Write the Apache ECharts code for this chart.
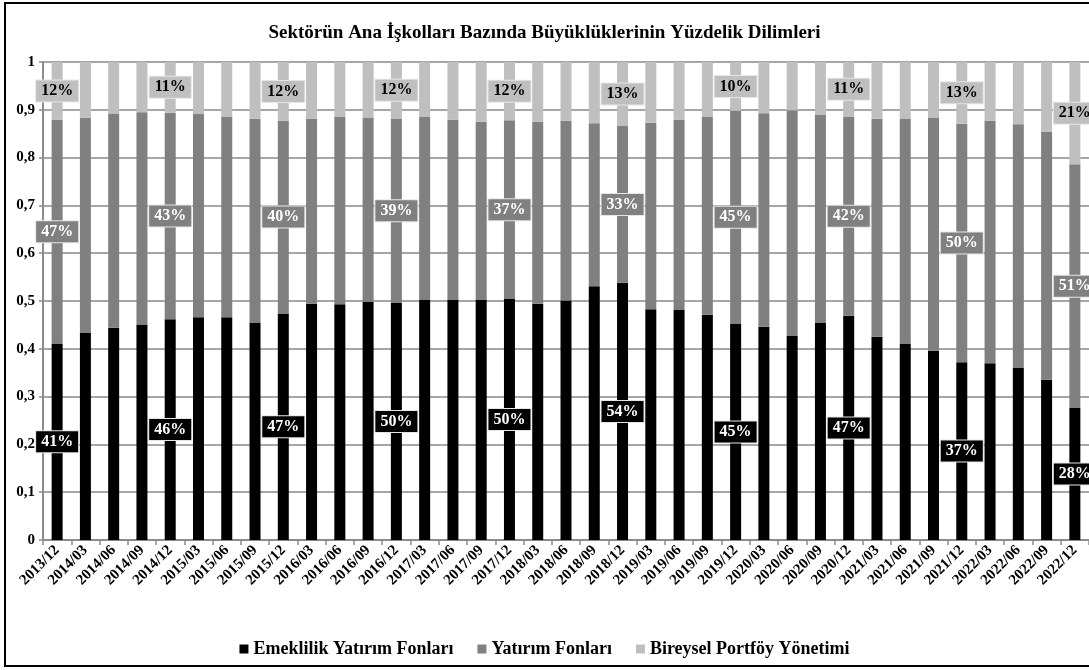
<!DOCTYPE html>
<html>
<head>
<meta charset="utf-8">
<script src="https://cdn.jsdelivr.net/npm/echarts@6/dist/echarts.min.js"></script>
<style>
  html, body { margin: 0; padding: 0; background: #fff; }
  #frame { position: absolute; left: 4px; top: 2px; width: 1100px; height: 661px; border: 2px solid #000; }
  #chart { position: absolute; left: 0; top: 0; width: 1089px; height: 670px; }
</style>
</head>
<body>
<div id="frame"></div>
<div id="chart"></div>
<script>
// kategoriler (çeyrekler)
var donemler = ['2013/12','2014/03','2014/06','2014/09','2014/12','2015/03','2015/06','2015/09','2015/12',
  '2016/03','2016/06','2016/09','2016/12','2017/03','2017/06','2017/09','2017/12','2018/03','2018/06',
  '2018/09','2018/12','2019/03','2019/06','2019/09','2019/12','2020/03','2020/06','2020/09','2020/12',
  '2021/03','2021/06','2021/09','2021/12','2022/03','2022/06','2022/09','2022/12'];

// seri değerleri (pay)
var emeklilik = [0.411,0.434,0.444,0.451,0.462,0.466,0.466,0.455,0.474,0.494,0.493,0.498,0.496,0.503,0.503,0.503,0.504,
  0.494,0.501,0.531,0.538,0.483,0.481,0.471,0.452,0.446,0.427,0.454,0.469,0.425,0.411,0.396,0.372,0.370,0.360,0.335,0.276];
var yatirim = [0.468,0.449,0.448,0.444,0.432,0.425,0.420,0.426,0.403,0.387,0.393,0.386,0.386,0.383,0.376,0.372,0.374,
  0.381,0.376,0.341,0.328,0.390,0.398,0.415,0.446,0.447,0.472,0.436,0.417,0.456,0.471,0.488,0.499,0.507,0.510,0.519,0.510];
var bireysel = [0.121,0.117,0.108,0.105,0.106,0.109,0.114,0.119,0.123,0.119,0.114,0.116,0.118,0.114,0.121,0.125,0.122,
  0.125,0.123,0.128,0.134,0.127,0.121,0.114,0.102,0.107,0.101,0.110,0.114,0.119,0.118,0.116,0.129,0.123,0.130,0.146,0.214];

var fontAile = "'Liberation Serif', 'Times New Roman', serif";

// sadece aralık dönemlerinde etiket göster
function veri(arr) {
  return arr.map(function (v, i) {
    return { value: v, label: { show: donemler[i].slice(5) === '12' } };
  });
}

function etiket(yazi, zemin) {
  return {
    show: false,
    position: 'inside',
    formatter: function (p) { return Math.round(p.value * 100) + '%'; },
    color: yazi,
    fontFamily: fontAile,
    fontWeight: 'bold',
    fontSize: 16,
    backgroundColor: zemin,
    borderColor: '#e6e6e6',
    borderWidth: 1,
    padding: [3, 5, 2, 5]
  };
}

var chart = echarts.init(document.getElementById('chart'));

var option = {
  backgroundColor: 'transparent',
  animation: false,
  title: {
    text: 'Sektörün Ana İşkolları Bazında Büyüklüklerinin Yüzdelik Dilimleri',
    left: 'center',
    top: 19,
    textStyle: { fontFamily: fontAile, fontWeight: 'bold', fontSize: 19, color: '#000' }
  },
  legend: {
    top: 635,
    left: 'center',
    icon: 'rect',
    itemWidth: 9,
    itemHeight: 9,
    itemGap: 24,
    textStyle: { fontFamily: fontAile, fontWeight: 'bold', fontSize: 18, color: '#000' },
    data: ['Emeklilik Yatırım Fonları', 'Yatırım Fonları', 'Bireysel Portföy Yönetimi']
  },
  grid: { left: 43, top: 62, width: 1047, height: 478 },
  xAxis: {
    type: 'category',
    data: donemler,
    axisLine: { lineStyle: { color: '#8c8c8c', width: 2 } },
    axisTick: { show: true, length: 5, lineStyle: { color: '#8c8c8c', width: 1.5 } },
    axisLabel: {
      rotate: 45,
      interval: 0,
      margin: 8,
      color: '#000',
      fontFamily: fontAile,
      fontWeight: 'bold',
      fontSize: 15
    }
  },
  yAxis: {
    type: 'value',
    min: 0,
    max: 1,
    interval: 0.1,
    axisLine: { show: true, lineStyle: { color: '#8c8c8c', width: 2 } },
    axisTick: { show: true, length: 4, lineStyle: { color: '#8c8c8c', width: 1.5 } },
    splitLine: { lineStyle: { color: '#a6a6a6', width: 2 } },
    axisLabel: {
      margin: 8,
      color: '#000',
      fontFamily: fontAile,
      fontWeight: 'bold',
      fontSize: 15,
      formatter: function (v) { return String(Math.round(v * 10) / 10).replace('.', ','); }
    }
  },
  series: [
    {
      name: 'Emeklilik Yatırım Fonları',
      type: 'bar',
      stack: 'toplam',
      barWidth: 11,
      itemStyle: { color: '#000000' },
      label: etiket('#ffffff', '#000000'),
      data: veri(emeklilik)
    },
    {
      name: 'Yatırım Fonları',
      type: 'bar',
      stack: 'toplam',
      barWidth: 11,
      itemStyle: { color: '#808080' },
      label: etiket('#ffffff', '#808080'),
      data: veri(yatirim)
    },
    {
      name: 'Bireysel Portföy Yönetimi',
      type: 'bar',
      stack: 'toplam',
      barWidth: 11,
      itemStyle: { color: '#bfbfbf' },
      label: etiket('#000000', '#bfbfbf'),
      data: veri(bireysel)
    }
  ]
};

chart.setOption(option);
</script>
</body>
</html>
